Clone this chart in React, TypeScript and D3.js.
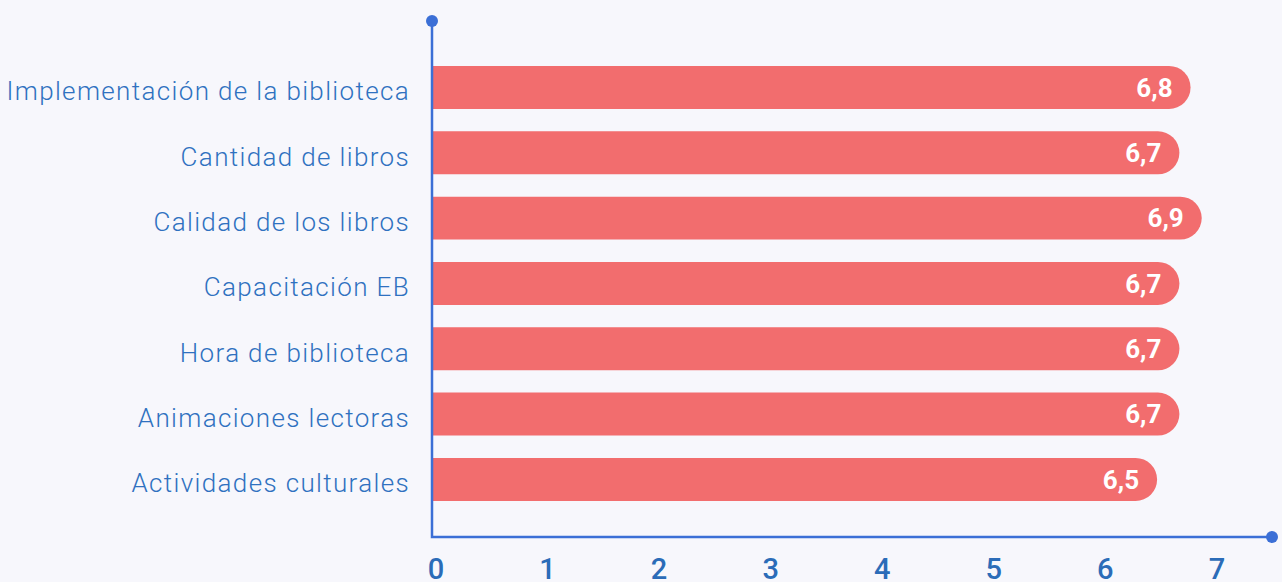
import { useEffect, useRef } from 'react'
import * as d3 from 'd3'

const categories = [
  'Implementación de la biblioteca',
  'Cantidad de libros',
  'Calidad de los libros',
  'Capacitación EB',
  'Hora de biblioteca',
  'Animaciones lectoras',
  'Actividades culturales',
]
const values = [6.8, 6.7, 6.9, 6.7, 6.7, 6.7, 6.5]
const ticks = [0, 1, 2, 3, 4, 5, 6, 7]

const App = () => {
  const width = 1282
  const height = 582
  const svgRef = useRef<SVGSVGElement>(null)

  useEffect(() => {
    const svg = d3.select(svgRef.current)
    svg.selectAll('*').remove()

    const axisColor = '#3b6fd6'
    const textColor = '#2f71c0'
    const barColor = '#f26d6e'
    const font = 'Roboto, "Noto Sans", sans-serif'

    const x = d3.scaleLinear().domain([0, 7.53]).range([432, 1272])
    const y = d3.scaleBand<string>()
      .domain(categories)
      .range([54.8, 512.1])
      .paddingInner(0.342)
      .paddingOuter(0.171)

    svg.append('rect')
      .attr('width', width)
      .attr('height', height)
      .attr('fill', '#f7f7fc')

    const data = categories.map((c, i) => ({ c, v: values[i] }))
    const bh = y.bandwidth()
    const r = bh / 2

    // bars, rounded on the right end only
    svg.selectAll('path.bar')
      .data(data)
      .enter()
      .append('path')
      .attr('class', 'bar')
      .attr('fill', barColor)
      .attr('d', d => {
        const x0 = x(0) + 1
        const x1 = x(d.v)
        const y0 = y(d.c)!
        return `M${x0},${y0}H${x1 - r}A${r},${r} 0 0 1 ${x1 - r},${y0 + bh}H${x0}Z`
      })

    svg.selectAll('text.val')
      .data(data)
      .enter()
      .append('text')
      .attr('class', 'val')
      .attr('x', d => x(d.v) - 18)
      .attr('y', d => y(d.c)! + bh / 2)
      .attr('dy', '0.36em')
      .attr('text-anchor', 'end')
      .style('font-family', font)
      .style('font-weight', 'bold')
      .style('font-size', '26px')
      .style('fill', '#ffffff')
      .text(d => d3.format('.1f')(d.v).replace('.', ','))

    svg.selectAll('text.cat')
      .data(data)
      .enter()
      .append('text')
      .attr('class', 'cat')
      .attr('x', 410)
      .attr('y', d => y(d.c)! + bh / 2)
      .attr('dy', '0.5em')
      .attr('text-anchor', 'end')
      .style('font-family', font)
      .style('font-weight', 300)
      .style('letter-spacing', '1.35px')
      .style('font-size', '26px')
      .style('fill', textColor)
      .text(d => d.c)

    // axes
    svg.append('path')
      .attr('d', `M${x(0)},21V537H${x(7.53)}`)
      .attr('fill', 'none')
      .attr('stroke', axisColor)
      .attr('stroke-width', 2.5)
    svg.append('circle').attr('cx', x(0)).attr('cy', 21).attr('r', 6).attr('fill', axisColor)
    svg.append('circle').attr('cx', x(7.53)).attr('cy', 537).attr('r', 6).attr('fill', axisColor)

    svg.selectAll('text.tick')
      .data(ticks)
      .enter()
      .append('text')
      .attr('class', 'tick')
      .attr('x', d => x(d) + 4)
      .attr('y', 579)
      .attr('text-anchor', 'middle')
      .style('font-family', font)
      .style('font-weight', 500)
      .style('font-size', '29px')
      .style('fill', '#2b6cb8')
      .text(d => d)
  }, [])

  return (
    <svg
      ref={svgRef}
      width={width}
      height={height}
      style={{ position: 'fixed', top: 0, left: 0 }}
    ></svg>
  )
}

export default App
